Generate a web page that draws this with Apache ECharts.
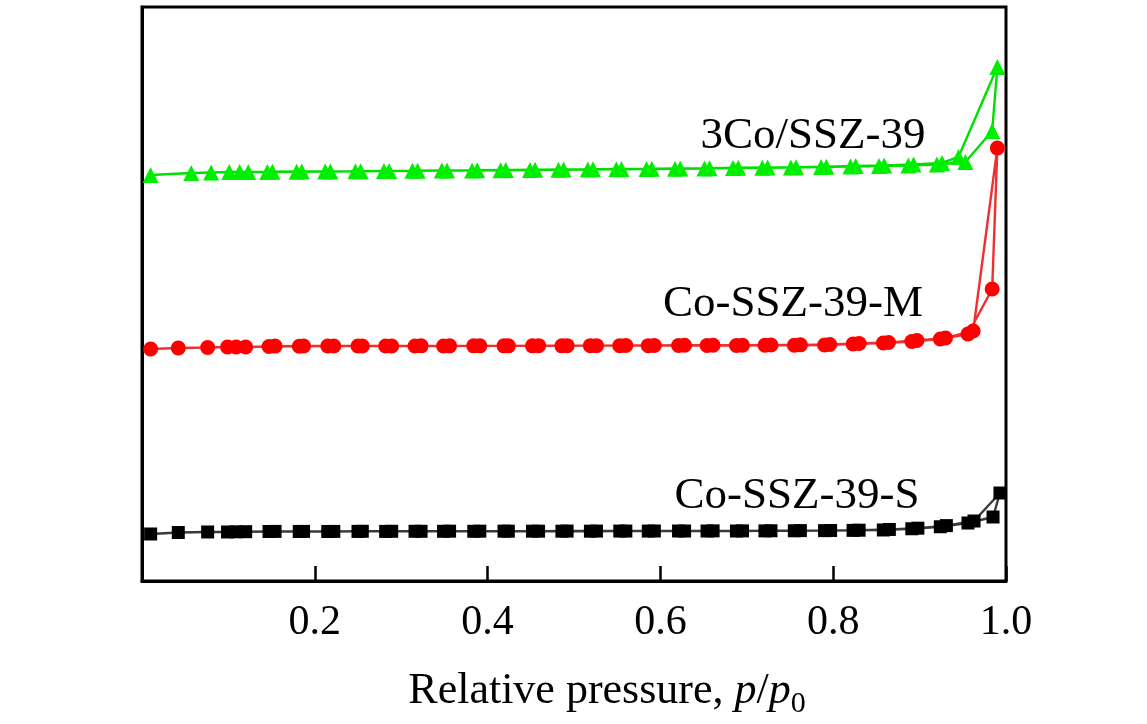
<!DOCTYPE html>
<html>
<head>
<meta charset="utf-8">
<script src="https://cdn.jsdelivr.net/npm/echarts@6/dist/echarts.min.js"></script>
<style>
  html, body { margin: 0; padding: 0; background: #fff; }
  #chart { width: 1147px; height: 724px; }
</style>
</head>
<body>
<div id="chart"></div>
<script>
// 横轴刻度
var xTicks = [0.2, 0.4, 0.6, 0.8, 1.0];

// Co-SSZ-39-S 吸附 / 脱附
var sAdsP = [0.010, 0.042, 0.076, 0.099, 0.109, 0.120, 0.147, 0.182, 0.215, 0.250, 0.282, 0.316,
             0.349, 0.384, 0.419, 0.452, 0.486, 0.519, 0.553, 0.586, 0.621, 0.654, 0.688, 0.721,
             0.755, 0.790, 0.823, 0.858, 0.891, 0.924, 0.956, 0.985, 0.993];
var sAdsV = [8.19, 8.45, 8.54, 8.54, 8.57, 8.59, 8.62, 8.62, 8.62, 8.64, 8.64, 8.66,
             8.66, 8.66, 8.68, 8.68, 8.68, 8.68, 8.70, 8.70, 8.71, 8.71, 8.71, 8.73,
             8.75, 8.77, 8.82, 8.89, 9.10, 9.45, 10.10, 11.15, 15.33];
var sDesP = [0.963, 0.931, 0.898, 0.865, 0.830, 0.797, 0.762, 0.728, 0.695, 0.661, 0.628, 0.593,
             0.560, 0.526, 0.492, 0.459, 0.424, 0.391, 0.356, 0.323, 0.289, 0.255, 0.222, 0.187, 0.154];
var sDesV = [10.45, 9.65, 9.20, 8.98, 8.85, 8.80, 8.78, 8.75, 8.73, 8.73, 8.71, 8.71,
             8.70, 8.70, 8.70, 8.68, 8.68, 8.68, 8.68, 8.66, 8.66, 8.66, 8.64, 8.64, 8.64];

// Co-SSZ-39-M
var mAdsP = [0.010, 0.042, 0.076, 0.099, 0.109, 0.120, 0.147, 0.182, 0.215, 0.250, 0.282, 0.316,
             0.349, 0.384, 0.419, 0.452, 0.486, 0.519, 0.553, 0.586, 0.621, 0.654, 0.688, 0.721,
             0.755, 0.790, 0.823, 0.858, 0.891, 0.924, 0.956, 0.984, 0.990];
var mAdsV = [40.42, 40.59, 40.68, 40.77, 40.77, 40.77, 40.85, 40.90, 40.94, 40.94, 40.94, 40.94,
             40.94, 40.97, 40.97, 40.97, 40.97, 41.00, 41.00, 41.00, 41.03, 41.03, 41.03, 41.06,
             41.08, 41.11, 41.29, 41.46, 41.72, 42.16, 43.03, 50.87, 75.44];
var mDesP = [0.962, 0.930, 0.897, 0.864, 0.830, 0.796, 0.762, 0.728, 0.695, 0.661, 0.628, 0.593,
             0.560, 0.526, 0.492, 0.459, 0.424, 0.391, 0.356, 0.323, 0.289, 0.255, 0.222, 0.187, 0.154];
var mDesV = [43.55, 42.33, 41.90, 41.55, 41.38, 41.20, 41.14, 41.11, 41.08, 41.06, 41.06, 41.03,
             41.03, 41.00, 41.00, 41.00, 40.97, 40.97, 40.97, 40.97, 40.94, 40.94, 40.94, 40.94, 40.92];

// 3Co/SSZ-39
var cAdsP = [0.010, 0.057, 0.080, 0.101, 0.113, 0.123, 0.145, 0.179, 0.212, 0.247, 0.280, 0.313,
             0.347, 0.382, 0.415, 0.449, 0.482, 0.516, 0.549, 0.584, 0.617, 0.651, 0.684, 0.718,
             0.751, 0.786, 0.820, 0.853, 0.887, 0.920, 0.953, 0.984, 0.990];
var cAdsV = [70.73, 71.08, 71.17, 71.25, 71.25, 71.25, 71.25, 71.30, 71.34, 71.38, 71.43, 71.47,
             71.52, 71.52, 71.56, 71.60, 71.65, 71.69, 71.73, 71.78, 71.82, 71.87, 71.95, 72.00,
             72.04, 72.13, 72.22, 72.30, 72.39, 72.56, 73.00, 78.40, 89.55];
var cDesP = [0.945, 0.926, 0.893, 0.859, 0.826, 0.792, 0.757, 0.724, 0.690, 0.657, 0.623, 0.590,
             0.555, 0.522, 0.488, 0.455, 0.421, 0.388, 0.353, 0.319, 0.286, 0.253, 0.218, 0.185, 0.151];
var cDesV = [73.87, 72.83, 72.56, 72.39, 72.30, 72.17, 72.08, 72.04, 72.00, 71.91, 71.87, 71.82,
             71.78, 71.73, 71.69, 71.65, 71.60, 71.56, 71.52, 71.47, 71.43, 71.38, 71.34, 71.34, 71.30];

var FONT = 'Liberation Serif, Times New Roman, serif';

function pairs(ap, av, dp, dv) {
  var out = [];
  for (var i = 0; i < ap.length; i++) out.push([ap[i], av[i]]);
  for (var j = 0; j < dp.length; j++) out.push([dp[j], dv[j]]);
  return out;
}

var chart = echarts.init(document.getElementById('chart'), null, { renderer: 'canvas' });

function mkSeries(name, data, symbol, size, markColor, lineColor) {
  return {
    name: name,
    type: 'line',
    data: data,
    symbol: symbol,
    symbolSize: size,
    showAllSymbol: true,
    showSymbol: true,
    clip: false,
    itemStyle: { color: markColor },
    lineStyle: { color: lineColor, width: 2.4 },
    emphasis: { disabled: true },
    animation: false
  };
}

var option = {
  backgroundColor: '#fff',
  animation: false,
  grid: {
    left: 142, right: 141, top: 7, bottom: 143,
    show: true, borderColor: '#000', borderWidth: 3, backgroundColor: 'transparent'
  },
  xAxis: {
    type: 'value',
    min: 0, max: 1.0, interval: 0.2,
    name: '{n|Relative pressure, }{i|p}{n|/}{i|p}{s|0}',
    nameLocation: 'middle',
    nameGap: 82,
    nameTextStyle: {
      padding: [0, 0, 0, 66],
      rich: {
        n: { fontFamily: FONT, fontSize: 44, color: '#000', lineHeight: 56, verticalAlign: 'middle' },
        i: { fontFamily: FONT, fontSize: 44, fontStyle: 'italic', color: '#000', lineHeight: 56, verticalAlign: 'middle' },
        s: { fontFamily: FONT, fontSize: 30, color: '#000', lineHeight: 30, verticalAlign: 'bottom' }
      }
    },
    axisLine: { show: true, lineStyle: { color: '#000', width: 3 } },
    axisTick: { show: true, inside: true, length: 15, lineStyle: { color: '#000', width: 2.5 } },
    axisLabel: {
      fontFamily: FONT, fontSize: 42, color: '#000', margin: 21,
      formatter: function (v) {
        for (var k = 0; k < xTicks.length; k++) {
          if (Math.abs(v - xTicks[k]) < 1e-6) return xTicks[k].toFixed(1);
        }
        return '';
      }
    },
    splitLine: { show: false }
  },
  yAxis: {
    type: 'value',
    min: 0, max: 100,
    axisLine: { show: true, lineStyle: { color: '#000', width: 3 } },
    axisTick: { show: false },
    axisLabel: { show: false },
    splitLine: { show: false }
  },
  series: [
    mkSeries('Co-SSZ-39-S', pairs(sAdsP, sAdsV, sDesP, sDesV), 'rect', 13, '#000', '#3a3a3a'),
    mkSeries('Co-SSZ-39-M', pairs(mAdsP, mAdsV, mDesP, mDesV), 'circle', 15, '#ff0000', '#ee3030'),
    mkSeries('3Co/SSZ-39', pairs(cAdsP, cAdsV, cDesP, cDesV), 'triangle', 16, '#00ee00', '#00e000')
  ],
  graphic: [
    { type: 'text', x: 813, y: 136, style: { text: '3Co/SSZ-39', font: '45px ' + FONT, fill: '#000', align: 'center', verticalAlign: 'middle' } },
    { type: 'text', x: 793, y: 304, style: { text: 'Co-SSZ-39-M', font: '45px ' + FONT, fill: '#000', align: 'center', verticalAlign: 'middle' } },
    { type: 'text', x: 797, y: 496, style: { text: 'Co-SSZ-39-S', font: '45px ' + FONT, fill: '#000', align: 'center', verticalAlign: 'middle' } }
  ]
};

chart.setOption(option);
</script>
</body>
</html>
